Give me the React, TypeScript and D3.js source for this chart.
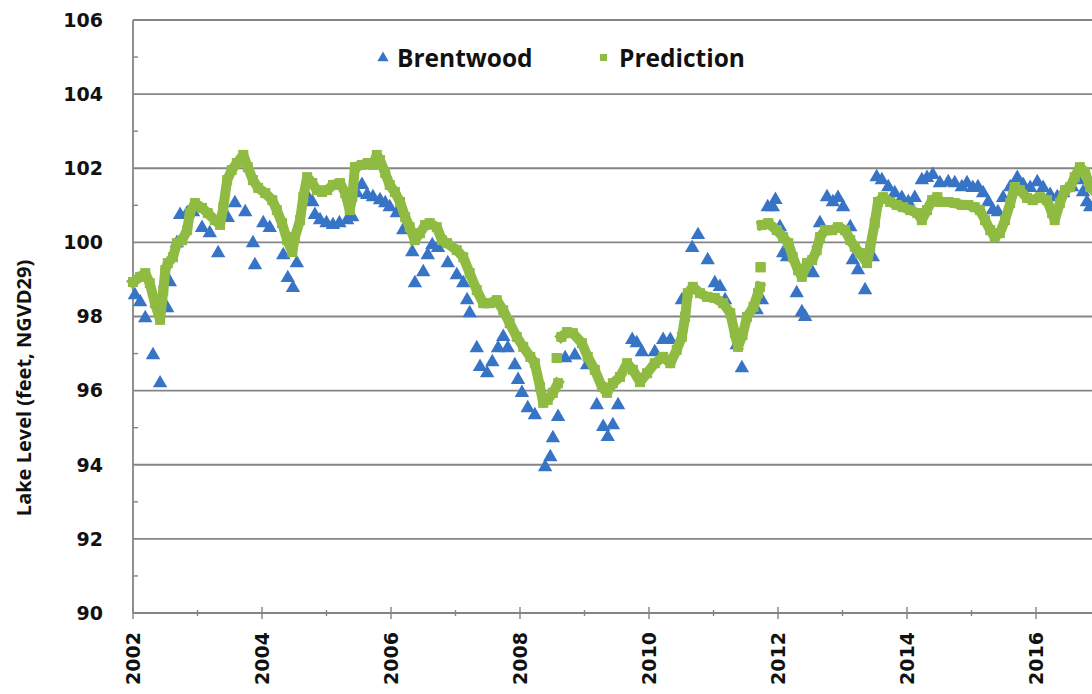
import React from "react";
import * as d3 from "d3";

const brentwoodDates = [
  2002.03, 2002.11, 2002.19, 2002.31, 2002.42, 2002.53, 2002.57, 2002.68, 2002.73, 2002.84, 2002.93,
  2003.07, 2003.19, 2003.32, 2003.47, 2003.58, 2003.74, 2003.86, 2003.89,
  2004.02, 2004.12, 2004.33, 2004.4, 2004.48, 2004.54, 2004.71, 2004.78, 2004.82, 2004.9,
  2005.0, 2005.1, 2005.2, 2005.32, 2005.4, 2005.47, 2005.55, 2005.63, 2005.72, 2005.83, 2005.91, 2005.98,
  2006.09, 2006.19, 2006.33, 2006.37, 2006.5, 2006.57, 2006.64, 2006.73, 2006.88,
  2007.02, 2007.12, 2007.18, 2007.22, 2007.33, 2007.38, 2007.49, 2007.57, 2007.66, 2007.74, 2007.81, 2007.92, 2007.97,
  2008.03, 2008.12, 2008.23, 2008.39, 2008.47, 2008.51, 2008.59, 2008.7, 2008.85,
  2009.04, 2009.19, 2009.29, 2009.36, 2009.44, 2009.52, 2009.74, 2009.81, 2009.89,
  2010.09, 2010.22, 2010.33, 2010.51, 2010.67, 2010.76, 2010.91,
  2011.02, 2011.1, 2011.18, 2011.36, 2011.44, 2011.67, 2011.75, 2011.84, 2011.92, 2011.96,
  2012.03, 2012.08, 2012.14, 2012.29, 2012.37, 2012.42, 2012.54, 2012.65, 2012.76, 2012.85, 2012.93,
  2013.01, 2013.12, 2013.16, 2013.24, 2013.35, 2013.47, 2013.53, 2013.61, 2013.71, 2013.81, 2013.92,
  2014.02, 2014.12, 2014.23, 2014.31, 2014.4, 2014.51, 2014.64, 2014.74, 2014.85, 2014.93,
  2015.02, 2015.1, 2015.18, 2015.26, 2015.33, 2015.41, 2015.49, 2015.6, 2015.71, 2015.8, 2015.91,
  2016.02, 2016.11, 2016.22, 2016.33, 2016.42, 2016.56, 2016.65, 2016.73, 2016.79, 2016.84,
];
const brentwoodLevels = [
  98.58, 98.39, 97.96, 96.96, 96.2, 98.23, 98.93, 99.98, 100.74, 100.79, 100.82,
  100.39, 100.25, 99.71, 100.66, 101.06, 100.82, 99.98, 99.39,
  100.52, 100.39, 99.66, 99.04, 98.77, 99.44, 101.22, 101.09, 100.74, 100.6,
  100.52, 100.47, 100.52, 100.6, 100.68, 101.33, 101.55, 101.28, 101.22, 101.14, 101.06, 100.95,
  100.79, 100.33, 99.74, 98.9, 99.2, 99.66, 99.93, 99.85, 99.44,
  99.12, 98.9, 98.44, 98.09, 97.15, 96.64, 96.47, 96.77, 97.15, 97.45, 97.15, 96.69, 96.29,
  95.94, 95.53, 95.34, 93.94, 94.21, 94.72, 95.29, 96.88, 96.95,
  96.69, 95.61, 95.02, 94.75, 95.07, 95.61, 97.37, 97.28, 97.04,
  97.04, 97.37, 97.37, 98.44, 99.85, 100.2, 99.52,
  98.9, 98.8, 98.44, 97.23, 96.61, 98.17, 98.44, 100.95, 100.95, 101.15,
  100.41, 99.71, 99.6, 98.63, 98.12, 97.99, 99.17, 100.52, 101.22, 101.09, 101.2,
  100.95, 100.41, 99.52, 99.25, 98.71, 99.6, 101.76, 101.68, 101.49, 101.33, 101.2,
  101.09, 101.2, 101.68, 101.74, 101.82, 101.6, 101.63, 101.6, 101.49, 101.6,
  101.47, 101.49, 101.33, 101.09, 100.87, 100.82, 101.2, 101.49, 101.74, 101.55, 101.47,
  101.63, 101.47, 101.28, 101.22, 101.33, 101.49, 101.68, 101.36, 101.09, 100.95,
];

// null marks a gap in the prediction record
const predictionDates = [
  2002.0, 2002.11, 2002.19, 2002.26, 2002.34, 2002.42, 2002.47, 2002.5, 2002.54, 2002.62, 2002.68, 2002.76, 2002.84, 2002.88, 2002.96,
  2003.07, 2003.16, 2003.27, 2003.35, 2003.4, 2003.46, 2003.53, 2003.61, 2003.71, 2003.78, 2003.86, 2003.94,
  2004.05, 2004.16, 2004.23, 2004.31, 2004.39, 2004.47, 2004.51, 2004.59, 2004.64, 2004.7, 2004.78, 2004.85, 2004.93,
  2005.01, 2005.1, 2005.21, 2005.29, 2005.36, 2005.4, 2005.44, 2005.55, 2005.64, 2005.72, 2005.78, 2005.83, 2005.91, 2005.98,
  2006.06, 2006.14, 2006.22, 2006.29, 2006.37, 2006.45, 2006.53, 2006.6, 2006.71, 2006.79, 2006.87,
  2007.02, 2007.12, 2007.22, 2007.33, 2007.43, 2007.53, 2007.64, 2007.74, 2007.84, 2007.95,
  2008.05, 2008.16, 2008.23, 2008.31, 2008.36, 2008.43, 2008.51, 2008.59, null, 2008.57, null,
  2008.64, 2008.73, 2008.82, 2008.96, 2009.05, 2009.16, 2009.27, 2009.35, 2009.44, 2009.55, 2009.66, 2009.75, 2009.86, 2009.97,
  2010.09, 2010.22, 2010.33, 2010.43, 2010.51, 2010.56, 2010.6, 2010.68, 2010.79, 2010.9,
  2011.02, 2011.15, 2011.26, 2011.33, 2011.38, 2011.45, 2011.52, 2011.62, 2011.69, 2011.72, null, 2011.73, null,
  2011.75, 2011.85, 2011.98, 2012.08, 2012.16, 2012.23, 2012.31, 2012.37, 2012.45, 2012.53, 2012.6, 2012.65, 2012.73, 2012.84, 2012.93,
  2013.04, 2013.12, 2013.19, 2013.27, 2013.38, 2013.43, 2013.5, 2013.55, 2013.63, 2013.74, 2013.84, 2013.94,
  2014.05, 2014.16, 2014.23, 2014.31, 2014.39, 2014.47, 2014.51, 2014.64, 2014.74, 2014.85, 2014.95,
  2015.05, 2015.13, 2015.21, 2015.29, 2015.36, 2015.44, 2015.52, 2015.6, 2015.67, 2015.75, 2015.86, 2015.95,
  2016.06, 2016.17, 2016.25, 2016.29, 2016.37, 2016.45, 2016.53, 2016.6, 2016.68, 2016.76, 2016.84, 2016.95,
];
const predictionLevels = [
  98.93, 99.07, 99.17, 98.9, 98.36, 97.91, 98.71, 99.25, 99.44, 99.6, 99.98, 100.06, 100.33, 100.79, 101.06,
  100.93, 100.79, 100.6, 100.47, 100.95, 101.68, 101.95, 102.14, 102.36, 102.03, 101.68, 101.47,
  101.33, 101.14, 100.87, 100.52, 100.06, 99.74, 100.14, 100.6, 101.22, 101.76, 101.6, 101.41, 101.36,
  101.41, 101.55, 101.6, 101.33, 100.87, 101.22, 102.03, 102.09, 102.14, 102.09, 102.36, 102.22, 101.87, 101.55,
  101.36, 101.09, 100.68, 100.41, 100.06, 100.25, 100.47, 100.52, 100.41, 100.06, 99.98,
  99.79, 99.6, 99.17, 98.71, 98.36, 98.36, 98.44, 98.17, 97.82, 97.45,
  97.18, 96.91, 96.74, 96.1, 95.67, 95.75, 95.94, 96.2, null, 96.88, null,
  97.45, 97.58, 97.55, 97.28, 96.91, 96.56, 96.1, 95.94, 96.2, 96.37, 96.74, 96.56, 96.23, 96.47,
  96.74, 96.91, 96.74, 97.1, 97.45, 97.99, 98.63, 98.8, 98.63, 98.53,
  98.5, 98.36, 98.09, 97.55, 97.18, 97.5, 97.99, 98.26, 98.63, 98.8, null, 99.33, null,
  100.47, 100.52, 100.33, 100.14, 99.98, 99.6, 99.25, 99.07, 99.44, 99.52, 99.79, 100.14, 100.33, 100.33, 100.41,
  100.33, 100.06, 99.88, 99.71, 99.44, 99.88, 100.52, 101.09, 101.22, 101.09, 101.01, 100.95,
  100.87, 100.79, 100.6, 100.87, 101.14, 101.22, 101.09, 101.09, 101.06, 101.01, 101.01,
  100.95, 100.87, 100.6, 100.33, 100.14, 100.25, 100.6, 101.06, 101.49, 101.41, 101.2, 101.14,
  101.22, 101.14, 100.79, 100.6, 101.06, 101.41, 101.49, 101.76, 102.03, 101.9, 101.49, 101.3,
];

const yTicks = [90, 92, 94, 96, 98, 100, 102, 104, 106];
const yMinorTicks = [91, 93, 95, 97, 99, 101, 103, 105];
const xTicks = [2002, 2004, 2006, 2008, 2010, 2012, 2014, 2016];
const xMinorTicks = [2003, 2005, 2007, 2009, 2011, 2013, 2015, 2017];
const seriesNames = ["Brentwood", "Prediction"];
const yTitle = "Lake Level (feet, NGVD29)";

const W = 1092;
const H = 694;
const BLUE = "#3874c6";
const GREEN = "#8fbb42";
const GRID = "#858585";

export default function App() {
  const x = d3.scaleLinear().domain([2002, 2018]).range([133, 1165]);
  const y = d3.scaleLinear().domain([90, 106]).range([613, 20]);
  const tri = d3.symbol(d3.symbolTriangle, 90)();

  const pred = predictionDates.map((d, i) => ({ d, v: predictionLevels[i] }));
  const line = d3
    .line<{ d: number | null; v: number | null }>()
    .defined((p) => p.d != null && p.v != null)
    .x((p) => x(p.d as number))
    .y((p) => y(p.v as number));

  const font = "'DejaVu Sans', Verdana, sans-serif";
  const right = W;

  return (
    <svg
      width={W}
      height={H}
      style={{ position: "absolute", left: 0, top: 0, background: "#fff" }}
    >
      <rect x={0} y={0} width={W} height={H} fill="#fff" />
      {/* gridlines */}
      {yTicks.slice(1).map((t) => (
        <line key={"g" + t} x1={x(2002)} x2={right} y1={y(t)} y2={y(t)} stroke={GRID} strokeWidth={1.8} />
      ))}
      {/* y axis */}
      <line x1={x(2002)} x2={x(2002)} y1={y(106)} y2={y(90)} stroke={GRID} strokeWidth={1.8} />
      {yMinorTicks.map((t) => (
        <line key={"ym" + t} x1={x(2002)} x2={x(2002) + 5} y1={y(t)} y2={y(t)} stroke={GRID} strokeWidth={1.4} />
      ))}
      {yTicks.map((t) => (
        <text
          key={"yl" + t}
          x={103}
          y={y(t)}
          dy="0.36em"
          textAnchor="end"
          fontFamily={font}
          fontWeight="bold"
          fontSize={19}
          fill="#111"
        >
          {t}
        </text>
      ))}
      {/* x axis */}
      <line x1={x(2002)} x2={right} y1={y(90)} y2={y(90)} stroke={GRID} strokeWidth={1.8} />
      {xTicks.map((t) => (
        <line key={"xt" + t} x1={x(t)} x2={x(t)} y1={y(90) - 6} y2={y(90) + 6} stroke={GRID} strokeWidth={1.4} />
      ))}
      {xMinorTicks.map((t) => (
        <line key={"xm" + t} x1={x(t)} x2={x(t)} y1={y(90) - 3} y2={y(90) + 3} stroke={GRID} strokeWidth={1.4} />
      ))}
      {xTicks.map((t) => (
        <text
          key={"xl" + t}
          transform={`translate(${x(t)},${y(90) + 19}) rotate(-90)`}
          dy="0.36em"
          textAnchor="end"
          fontFamily={font}
          fontWeight="bold"
          fontSize={19}
          fill="#111"
        >
          {t}
        </text>
      ))}
      {/* axis title */}
      <text
        transform={`translate(24,388) rotate(-90)`}
        dy="0.35em"
        textAnchor="middle"
        fontFamily="'Open Sans', sans-serif"
        fontWeight="bold"
        fontSize={20}
        fill="#111"
      >
        {yTitle}
      </text>
      {/* Brentwood triangles */}
      <g fill={BLUE}>
        {brentwoodDates.map((d, i) => (
          <path key={"b" + i} d={tri as string} transform={`translate(${x(d)},${y(brentwoodLevels[i])})`} />
        ))}
      </g>
      {/* Prediction */}
      <path
        d={line(pred) || ""}
        fill="none"
        stroke={GREEN}
        strokeWidth={10}
        strokeLinejoin="round"
        strokeLinecap="square"
      />
      <g fill={GREEN}>
        {pred
          .filter((p) => p.d != null && p.v != null)
          .map((p, i) => (
            <rect key={"p" + i} x={x(p.d as number) - 5} y={y(p.v as number) - 5} width={10} height={10} />
          ))}
      </g>
      {/* legend */}
      <path d={d3.symbol(d3.symbolTriangle, 55)() as string} transform="translate(383,58)" fill={BLUE} />
      <text x={397} y={67} fontFamily="'Open Sans', sans-serif" fontWeight="bold" fontSize={24.5} fill="#111">
        {seriesNames[0]}
      </text>
      <rect x={600} y={54} width={7} height={7} fill={GREEN} />
      <text x={619} y={67} fontFamily="'Open Sans', sans-serif" fontWeight="bold" fontSize={24.5} fill="#111">
        {seriesNames[1]}
      </text>
    </svg>
  );
}
